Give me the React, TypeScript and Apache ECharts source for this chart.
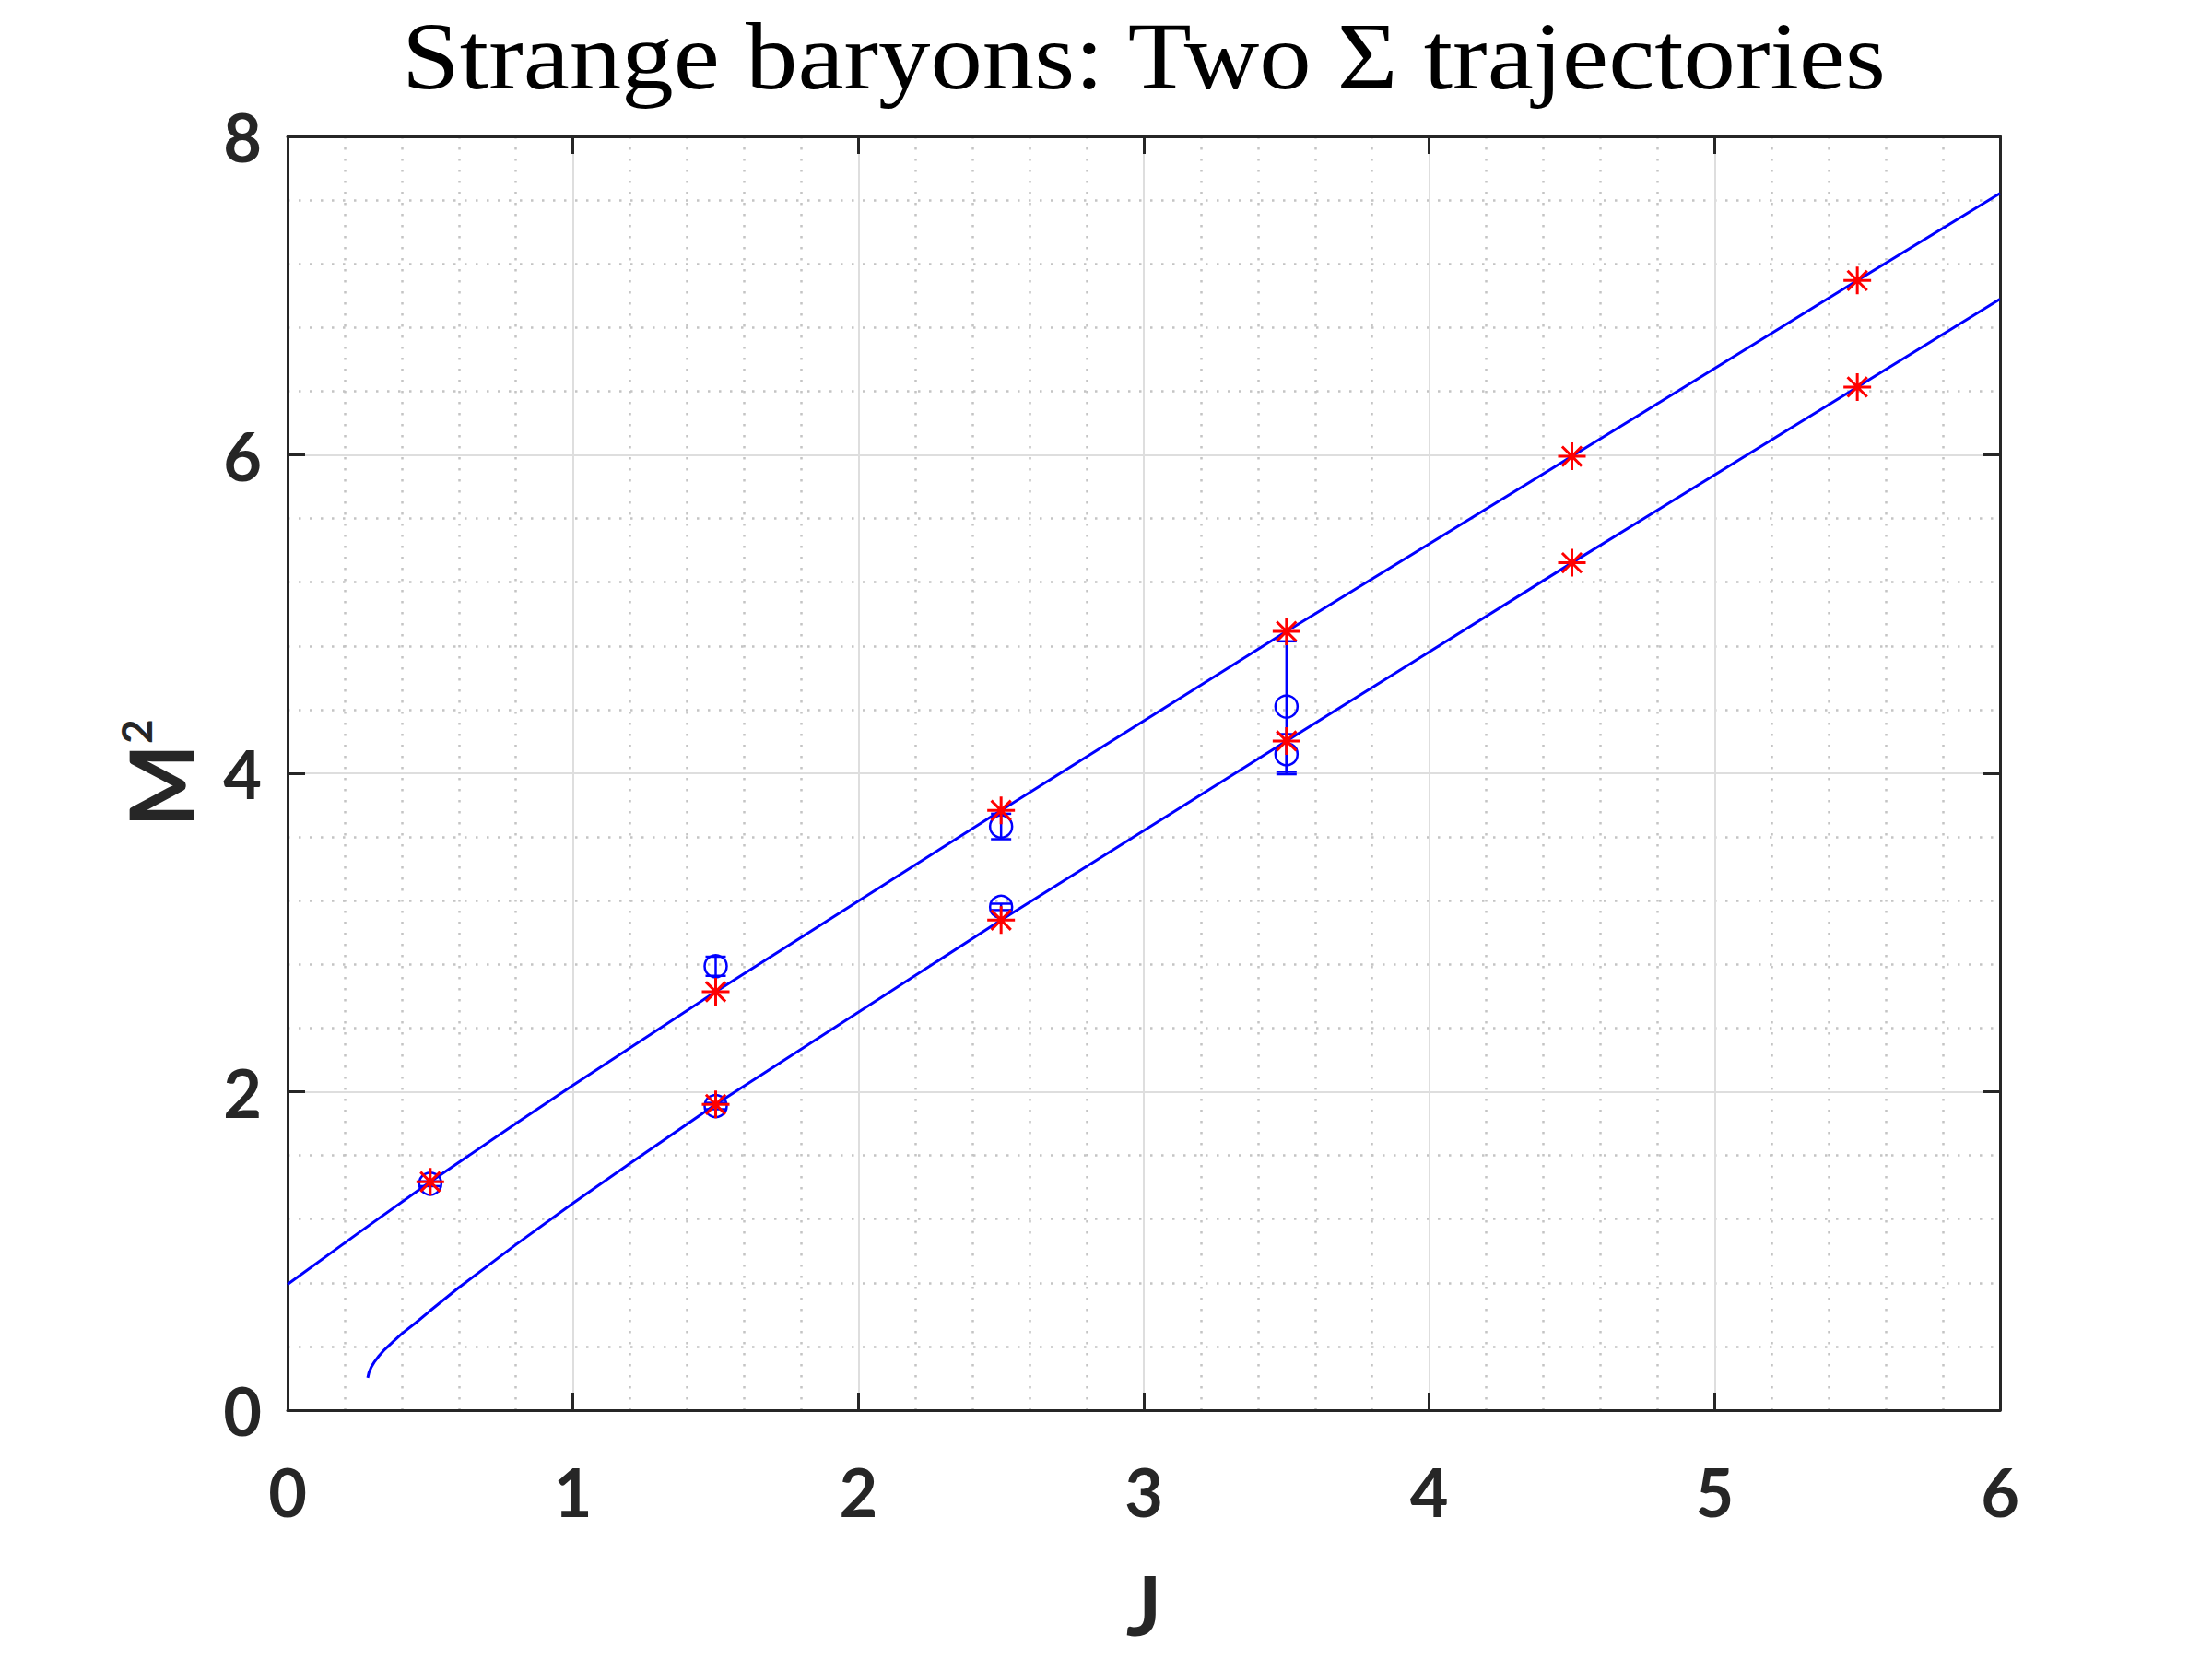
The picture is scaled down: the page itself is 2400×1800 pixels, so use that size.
import React, { useEffect, useRef } from "react";
import * as echarts from "echarts";

const titleText = "Strange baryons: Two \u03A3 trajectories";
const xTicks = [0, 1, 2, 3, 4, 5, 6];
const yTicks = [0, 2, 4, 6, 8];

// upper trajectory curve (J, M^2)
const upperCurve: [number, number][] = [
  [0, 0.79], [0.25, 1.115], [0.5, 1.434], [0.8, 1.8], [1.0, 2.04], [1.5, 2.628],
  [2.5, 3.767], [3.5, 4.891], [4.5, 5.991], [5.5, 7.095], [6, 7.643],
];
// lower trajectory curve (J, M^2)
const lowerCurve: [number, number][] = [
  [0.281, 0.203], [0.285, 0.235], [0.293, 0.27], [0.305, 0.305], [0.32, 0.34],
  [0.34, 0.38], [0.37, 0.43], [0.4, 0.48], [0.45, 0.55], [0.5, 0.625], [0.6, 0.77],
  [0.8, 1.04], [1.0, 1.3], [1.2, 1.55], [1.5, 1.92], [2.5, 3.078], [3.5, 4.203],
  [4.5, 5.322], [5.5, 6.426], [6, 6.978],
];
// model predictions (red asterisks)
const upperPred: [number, number][] = [
  [0.5, 1.434], [1.5, 2.628], [2.5, 3.767], [3.5, 4.891], [4.5, 5.991], [5.5, 7.095],
];
const lowerPred: [number, number][] = [
  [1.5, 1.92], [2.5, 3.078], [3.5, 4.203], [4.5, 5.322], [5.5, 6.426],
];
// experimental points (J, M^2, error)
const expJ = [0.5, 1.5, 1.5, 2.5, 2.5, 3.5, 3.5];
const expM2 = [1.422, 2.788, 1.91, 3.666, 3.161, 4.419, 4.12];
const expErr = [0.015, 0.06, 0.02, 0.08, 0.02, 0.41, 0.126];

const ASTERISK =
  "path://M10 0L10 20M0 10L20 10M2.93 2.93L17.07 17.07M2.93 17.07L17.07 2.93";

export default function App() {
  const ref = useRef<HTMLDivElement>(null);
  useEffect(() => {
    if (!ref.current) return;
    const chart = echarts.init(ref.current, null, { renderer: "svg" });
    const axisColor = "#262626";
    const tickFont = "Lato";
    const expData = expJ.map((j, i) => [j, expM2[i], expErr[i]]);
    const baseX = {
      type: "value" as const,
      min: 0,
      max: 6,
      interval: 1,
    };
    const baseY = {
      type: "value" as const,
      min: 0,
      max: 8,
      interval: 2,
    };
    chart.setOption({
      animation: false,
      backgroundColor: "#ffffff",
      grid: { left: 312, right: 230, top: 148, bottom: 270, containLabel: false },
      graphic: [
        {
          type: "text",
          x: 1241,
          y: 61,
          scaleX: 1.085,
          style: {
            text: titleText,
            font: "104px 'Liberation Serif'",
            fill: "#000000",
            textAlign: "center",
            textVerticalAlign: "middle",
          },
        },
      ],
      xAxis: [
        {
          ...baseX,
          position: "bottom",
          name: "J",
          nameLocation: "middle",
          nameGap: 165,
          nameTextStyle: { fontFamily: tickFont, fontSize: 90, fontWeight: "bold", color: axisColor },
          axisLine: { show: true, onZero: false, lineStyle: { color: axisColor, width: 3 } },
          axisTick: { show: true, inside: true, length: 19, lineStyle: { color: axisColor, width: 3 } },
          axisLabel: {
            show: true,
            margin: 52,
            fontFamily: tickFont,
            fontSize: 72,
            fontWeight: "bold",
            color: axisColor,
            formatter: (v: number) => (xTicks.includes(v) ? String(v) : ""),
          },
          splitLine: { show: true, lineStyle: { color: "#dedede", width: 2 } },
          minorTick: { show: false, splitNumber: 5 },
          minorSplitLine: { show: true, lineStyle: { color: "#c4c4c4", width: 2.5, type: [2.5, 9.5] } },
        },
        {
          ...baseX,
          position: "top",
          axisLine: { show: true, onZero: false, lineStyle: { color: axisColor, width: 3 } },
          axisTick: { show: true, inside: true, length: 19, lineStyle: { color: axisColor, width: 3 } },
          axisLabel: { show: false },
          splitLine: { show: false },
        },
      ],
      yAxis: [
        {
          ...baseY,
          position: "left",
          name: "{m|M}{s|2}",
          nameLocation: "middle",
          nameRotate: 90,
          nameGap: 92,
          nameTextStyle: {
            color: axisColor,
            fontFamily: tickFont,
            rich: {
              m: { fontSize: 96, fontFamily: tickFont, fontWeight: "bold", color: axisColor },
              s: { fontSize: 46, fontFamily: tickFont, fontWeight: "bold", color: axisColor, verticalAlign: "top", padding: [0, 0, 40, 0] },
            },
          },
          axisLine: { show: true, onZero: false, lineStyle: { color: axisColor, width: 3 } },
          axisTick: { show: true, inside: true, length: 19, lineStyle: { color: axisColor, width: 3 } },
          axisLabel: {
            show: true,
            margin: 28,
            fontFamily: tickFont,
            fontSize: 72,
            fontWeight: "bold",
            color: axisColor,
            formatter: (v: number) => (yTicks.includes(v) ? String(v) : ""),
          },
          splitLine: { show: true, lineStyle: { color: "#dedede", width: 2 } },
          minorTick: { show: false, splitNumber: 5 },
          minorSplitLine: { show: true, lineStyle: { color: "#c4c4c4", width: 2.5, type: [2.5, 9.5] } },
        },
        {
          ...baseY,
          position: "right",
          axisLine: { show: true, onZero: false, lineStyle: { color: axisColor, width: 3 } },
          axisTick: { show: true, inside: true, length: 19, lineStyle: { color: axisColor, width: 3 } },
          axisLabel: { show: false },
          splitLine: { show: false },
        },
      ],
      series: [
        {
          type: "line",
          data: upperCurve,
          smooth: false,
          showSymbol: false,
          silent: true,
          lineStyle: { color: "#0000ff", width: 3 },
          z: 2,
        },
        {
          type: "line",
          data: lowerCurve,
          smooth: false,
          showSymbol: false,
          silent: true,
          lineStyle: { color: "#0000ff", width: 3 },
          z: 2,
        },
        {
          type: "custom",
          data: expData,
          silent: true,
          encode: { x: 0, y: 1 },
          z: 3,
          renderItem: (params: any, api: any) => {
            const x = api.value(0);
            const y = api.value(1);
            const e = api.value(2);
            const top = api.coord([x, y + e]);
            const bot = api.coord([x, y - e]);
            const hw = 11;
            const st = { stroke: "#0000ff", lineWidth: 2.5 };
            return {
              type: "group",
              children: [
                { type: "line", shape: { x1: top[0], y1: top[1], x2: bot[0], y2: bot[1] }, style: st },
                { type: "line", shape: { x1: top[0] - hw, y1: top[1], x2: top[0] + hw, y2: top[1] }, style: st },
                { type: "line", shape: { x1: bot[0] - hw, y1: bot[1], x2: bot[0] + hw, y2: bot[1] }, style: st },
              ],
            };
          },
        },
        {
          type: "scatter",
          data: expData.map((d) => [d[0], d[1]]),
          symbol: "circle",
          symbolSize: 24,
          silent: true,
          itemStyle: { color: "rgba(0,0,0,0)", borderColor: "#0000ff", borderWidth: 2.5, opacity: 1 },
          z: 4,
        },
        {
          type: "scatter",
          data: upperPred,
          symbol: ASTERISK,
          symbolSize: 30,
          silent: true,
          itemStyle: { color: "rgba(0,0,0,0)", borderColor: "#ff0000", borderWidth: 3, opacity: 1 },
          z: 5,
        },
        {
          type: "scatter",
          data: lowerPred,
          symbol: ASTERISK,
          symbolSize: 30,
          silent: true,
          itemStyle: { color: "rgba(0,0,0,0)", borderColor: "#ff0000", borderWidth: 3, opacity: 1 },
          z: 5,
        },
      ],
    });
    return () => chart.dispose();
  }, []);
  return (
    <div
      ref={ref}
      style={{ position: "absolute", left: 0, top: 0, width: 2400, height: 1800, background: "#fff" }}
    />
  );
}
